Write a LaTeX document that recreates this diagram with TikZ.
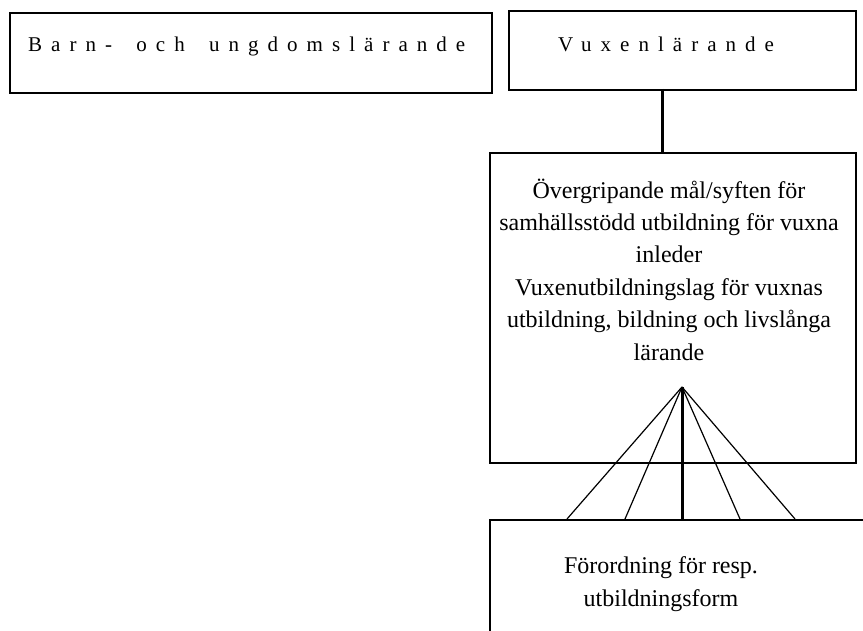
\documentclass[tikz,border=0pt]{standalone}
\usepackage{fontspec}
\setmainfont{Liberation Serif}
\newfontfamily\spacedfont[LetterSpace=43]{Liberation Serif}
\begin{document}
\begin{tikzpicture}[x=1pt,y=-1pt,
  boxline/.style={draw=black,line width=1.6pt},
  thickline/.style={line width=3pt},
  fanline/.style={line width=1.2pt},
  bodytext/.style={font=\fontsize{24}{32.4}\selectfont,align=center,inner sep=0pt},
  headtext/.style={font=\spacedfont\fontsize{21}{24}\selectfont,inner sep=0pt,anchor=base west}]
\useasboundingbox (0,0) rectangle (863,631);
\clip (0,0) rectangle (863,631);
% boxes
\node[boxline,anchor=north west,minimum width=482pt,minimum height=80pt,inner sep=0pt] (b1) at (9,12) {};
\node[boxline,anchor=north west,minimum width=347pt,minimum height=79pt,inner sep=0pt] (b2) at (508,10) {};
\node[boxline,anchor=north west,minimum width=366pt,minimum height=310pt,inner sep=0pt] (b3) at (489,152) {};
\node[boxline,anchor=north west,minimum width=400pt,minimum height=140pt,inner sep=0pt] (b4) at (489,519) {};
% texts
\node[headtext] (t1) at (28,52) {Barn- \hspace{10pt}och \hspace{10pt}ungdomslärande};
\node[headtext] (t2) at (558,52) {Vuxenlärande};
\node[bodytext,anchor=base] (t3) at (669,360) {Övergripande mål/syften för\\samhällsstödd utbildning för vuxna\\inleder\\Vuxenutbildningslag för vuxnas\\utbildning, bildning och livslånga\\lärande};
\node[bodytext,anchor=base] (t4) at (661,606) {Förordning för resp.\\utbildningsform};
% connectors
\coordinate (top) at (662,89);
\draw[thickline] (top) -- (top |- b3.north);
\coordinate (apex) at (682,387);
\coordinate (f1) at (567,519);
\coordinate (f2) at (625,519);
\coordinate (f3) at (682,519);
\coordinate (f4) at (740,519);
\coordinate (f5) at (795,519);
\draw[fanline] (apex) -- (f1);
\draw[fanline] (apex) -- (f2);
\draw[fanline] (apex) -- (f4);
\draw[fanline] (apex) -- (f5);
\draw[thickline] (apex) -- (f3);
\end{tikzpicture}
\end{document}
